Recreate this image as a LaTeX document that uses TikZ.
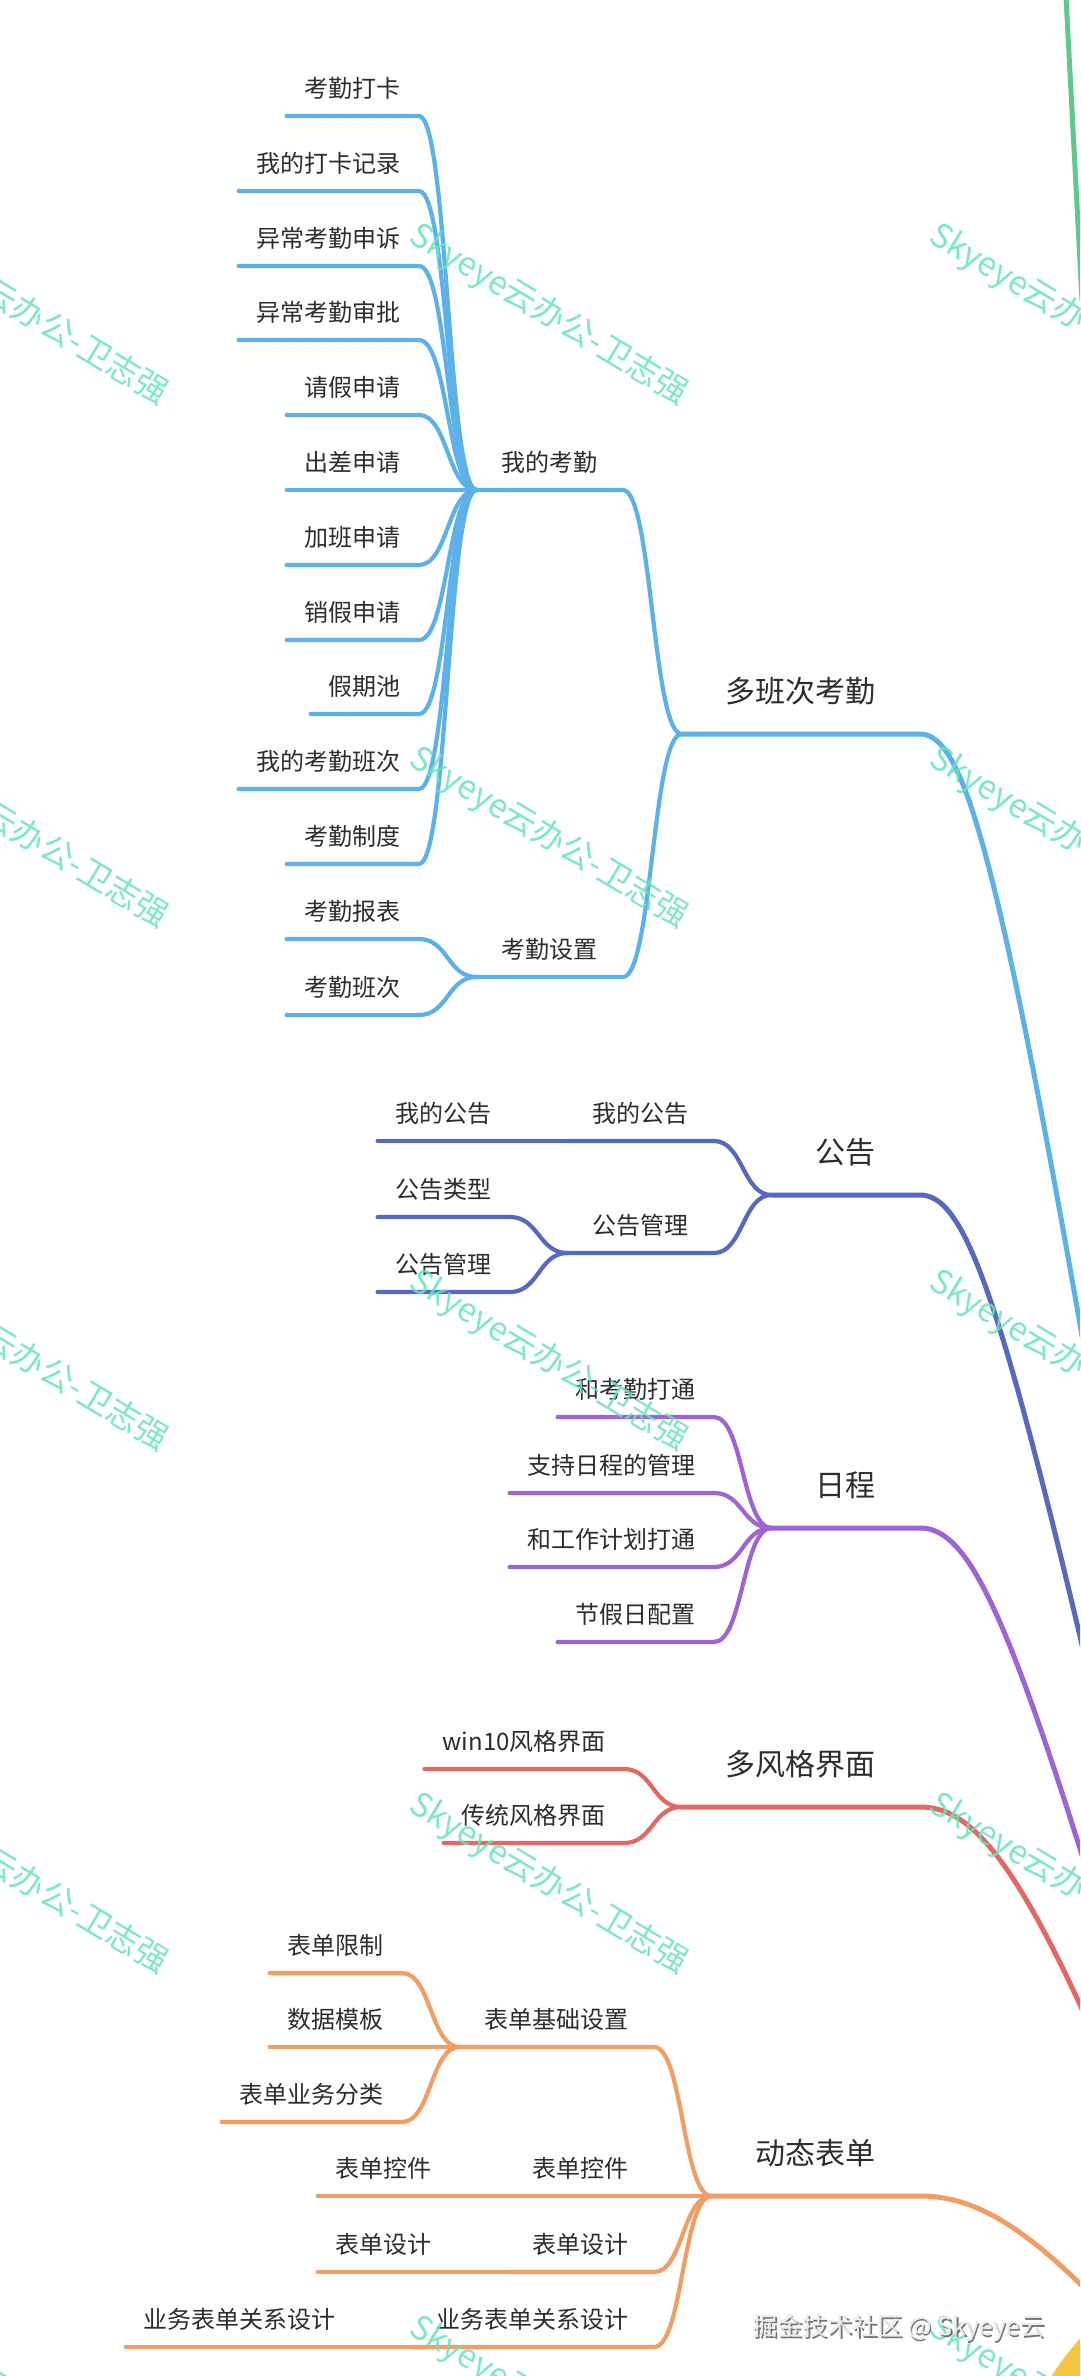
\documentclass[tikz,border=0pt]{standalone}
\usepackage{fontspec}
\newfontfamily\cjk{Noto Sans CJK SC}
\definecolor{txt}{RGB}{45,45,45}
\definecolor{kqblue}{RGB}{92,178,232}
\definecolor{ggindigo}{RGB}{88,104,192}
\definecolor{rcpurple}{RGB}{158,100,214}
\definecolor{fgred}{RGB}{226,104,100}
\definecolor{bdorange}{RGB}{240,158,100}
\definecolor{topgreen}{RGB}{96,200,142}
\definecolor{rootyellow}{RGB}{246,198,64}
\definecolor{wmgreen}{RGB}{104,228,186}
\tikzset{
  leaf/.style={font=\cjk\fontsize{24}{28}\selectfont,text=txt,inner xsep=18pt,inner ysep=15pt,
    text height=20.4pt,text depth=3.6pt,anchor=south east},
  mid/.style={leaf,inner xsep=25pt},
  topic/.style={font=\cjk\fontsize{30}{34}\selectfont,text=txt,inner xsep=44pt,inner ysep=27pt,
    text height=25.5pt,text depth=4.5pt,anchor=south east},
  link/.style={line width=4.2pt,line cap=round,line join=round},
  trunk/.style={line width=5pt,line cap=round,line join=round},
  wm/.style={font=\cjk\fontsize{33}{36}\selectfont,text=wmgreen,rotate=-31,opacity=0.85},
  foot/.style={font=\cjk\fontsize{25}{28}\selectfont}
}
\begin{document}
\begin{tikzpicture}[x=1pt,y=-1pt]
\useasboundingbox (0,0) rectangle (1080,2376);
\clip (0,0) rectangle (1080,2376);
\fill[white] (0,0) rectangle (1080,2376);
\coordinate (rootc) at (1280,2520);
% 多班次考勤
\node[topic] (dbckq) at (920,734) {多班次考勤};
\node[mid] (wdkq) at (623,490) {我的考勤};
\node[mid] (kqsz) at (623,977) {考勤设置};
\node[leaf] (kqdk) at (419,116) {考勤打卡};
\node[leaf] (dkjl) at (419,191) {我的打卡记录};
\node[leaf] (ycss) at (419,266) {异常考勤申诉};
\node[leaf] (ycsp) at (419,340) {异常考勤审批};
\node[leaf] (qjsq) at (419,415) {请假申请};
\node[leaf] (ccsq) at (419,490) {出差申请};
\node[leaf] (jbsq) at (419,565) {加班申请};
\node[leaf] (xjsq) at (419,640) {销假申请};
\node[leaf] (jqc) at (419,714) {假期池};
\node[leaf] (wdbc) at (419,789) {我的考勤班次};
\node[leaf] (kqzd) at (419,864) {考勤制度};
\node[leaf] (kqbb) at (419,939) {考勤报表};
\node[leaf] (kqbc) at (419,1015) {考勤班次};
\begin{scope}[link,draw=kqblue]
\draw (kqdk.south west)--(kqdk.south east)..controls +(29,0) and +(-29,0)..(wdkq.south west);
\draw (dkjl.south west)--(dkjl.south east)..controls +(29,0) and +(-29,0)..(wdkq.south west);
\draw (ycss.south west)--(ycss.south east)..controls +(29,0) and +(-29,0)..(wdkq.south west);
\draw (ycsp.south west)--(ycsp.south east)..controls +(29,0) and +(-29,0)..(wdkq.south west);
\draw (qjsq.south west)--(qjsq.south east)..controls +(29,0) and +(-29,0)..(wdkq.south west);
\draw (ccsq.south west)--(ccsq.south east)--(wdkq.south west);
\draw (jbsq.south west)--(jbsq.south east)..controls +(29,0) and +(-29,0)..(wdkq.south west);
\draw (xjsq.south west)--(xjsq.south east)..controls +(29,0) and +(-29,0)..(wdkq.south west);
\draw (jqc.south west)--(jqc.south east)..controls +(29,0) and +(-29,0)..(wdkq.south west);
\draw (wdbc.south west)--(wdbc.south east)..controls +(29,0) and +(-29,0)..(wdkq.south west);
\draw (kqzd.south west)--(kqzd.south east)..controls +(29,0) and +(-29,0)..(wdkq.south west);
\draw (kqbb.south west)--(kqbb.south east)..controls +(29,0) and +(-29,0)..(kqsz.south west);
\draw (kqbc.south west)--(kqbc.south east)..controls +(29,0) and +(-29,0)..(kqsz.south west);
\draw (wdkq.south west)--(wdkq.south east)..controls +(29,0) and +(-29,0)..(dbckq.south west);
\draw (kqsz.south west)--(kqsz.south east)..controls +(29,0) and +(-29,0)..(dbckq.south west);
\end{scope}
\draw[trunk,kqblue] (dbckq.south west)--(dbckq.south east)..controls (985,734) and (1030,1000)..(rootc);
% 公告
\node[topic] (gg) at (920,1195) {公告};
\node[mid] (wdgg) at (714,1141) {我的公告};
\node[mid] (gggl) at (714,1253) {公告管理};
\node[leaf] (wdgg1) at (510,1141) {我的公告};
\node[leaf] (gglx) at (510,1217) {公告类型};
\node[leaf] (gggl1) at (510,1292) {公告管理};
\begin{scope}[link,draw=ggindigo]
\draw (wdgg1.south west)--(wdgg1.south east)--(wdgg.south west);
\draw (gglx.south west)--(gglx.south east)..controls +(29,0) and +(-29,0)..(gggl.south west);
\draw (gggl1.south west)--(gggl1.south east)..controls +(29,0) and +(-29,0)..(gggl.south west);
\draw (wdgg.south west)--(wdgg.south east)..controls +(29,0) and +(-29,0)..(gg.south west);
\draw (gggl.south west)--(gggl.south east)..controls +(29,0) and +(-29,0)..(gg.south west);
\end{scope}
\draw[trunk,ggindigo] (gg.south west)--(gg.south east)..controls (985,1195) and (1030,1400)..(rootc);
% 日程
\node[topic] (rc) at (920,1528) {日程};
\node[leaf] (hkq) at (714,1417) {和考勤打通};
\node[leaf] (zcrc) at (714,1493) {支持日程的管理};
\node[leaf] (hgz) at (714,1567) {和工作计划打通};
\node[leaf] (jjr) at (714,1642) {节假日配置};
\begin{scope}[link,draw=rcpurple]
\draw (hkq.south west)--(hkq.south east)..controls +(29,0) and +(-29,0)..(rc.south west);
\draw (zcrc.south west)--(zcrc.south east)..controls +(29,0) and +(-29,0)..(rc.south west);
\draw (hgz.south west)--(hgz.south east)..controls +(29,0) and +(-29,0)..(rc.south west);
\draw (jjr.south west)--(jjr.south east)..controls +(29,0) and +(-29,0)..(rc.south west);
\end{scope}
\draw[trunk,rcpurple] (rc.south west)--(rc.south east)..controls (990,1528) and (1040,1700)..(rootc);
% 多风格界面
\node[topic] (dfg) at (920,1807) {多风格界面};
\node[leaf] (win) at (624,1769) {win10风格界面};
\node[leaf] (ctfg) at (624,1843) {传统风格界面};
\begin{scope}[link,draw=fgred]
\draw (win.south west)--(win.south east)..controls +(29,0) and +(-29,0)..(dfg.south west);
\draw (ctfg.south west)--(ctfg.south east)..controls +(29,0) and +(-29,0)..(dfg.south west);
\end{scope}
\draw[trunk,fgred] (dfg.south west)--(dfg.south east)..controls (990,1807) and (1060,1900)..(rootc);
% 动态表单
\node[topic] (dtbd) at (920,2196) {动态表单};
\node[mid] (jcsz) at (654,2047) {表单基础设置};
\node[mid] (bdkj) at (654,2196) {表单控件};
\node[mid] (bdsj) at (654,2272) {表单设计};
\node[mid] (gxsj) at (654,2347) {业务表单关系设计};
\node[leaf] (bdxz) at (402,1973) {表单限制};
\node[leaf] (sjmb) at (402,2047) {数据模板};
\node[leaf] (ywfl) at (402,2122) {表单业务分类};
\node[leaf] (bdkj1) at (450,2196) {表单控件};
\node[leaf] (bdsj1) at (450,2272) {表单设计};
\node[leaf] (gxsj1) at (354,2347) {业务表单关系设计};
\begin{scope}[link,draw=bdorange]
\draw (bdxz.south west)--(bdxz.south east)..controls +(29,0) and +(-29,0)..(jcsz.south west);
\draw (sjmb.south west)--(sjmb.south east)--(jcsz.south west);
\draw (ywfl.south west)--(ywfl.south east)..controls +(29,0) and +(-29,0)..(jcsz.south west);
\draw (bdkj1.south west)--(bdkj1.south east)--(bdkj.south west);
\draw (bdsj1.south west)--(bdsj1.south east)--(bdsj.south west);
\draw (gxsj1.south west)--(gxsj1.south east)--(gxsj.south west);
\draw (jcsz.south west)--(jcsz.south east)..controls +(29,0) and +(-29,0)..(dtbd.south west);
\draw (bdkj.south west)--(bdkj.south east)--(dtbd.south west);
\draw (bdsj.south west)--(bdsj.south east)..controls +(29,0) and +(-29,0)..(dtbd.south west);
\draw (gxsj.south west)--(gxsj.south east)..controls +(29,0) and +(-29,0)..(dtbd.south west);
\end{scope}
\draw[trunk,bdorange] (dtbd.south west)--(dtbd.south east)..controls (1000,2196) and (1080,2260)..(rootc);
% branch leaving at the top
\coordinate (topend) at (1063,-60);
\coordinate (topout) at (1082,300);
\draw[trunk,topgreen] (topend)--(topout);
% root
\node[circle,fill=rootyellow,minimum size=540pt,inner sep=0pt] (root) at (rootc) {};
% watermark
\node[wm] (wm11) at (29,315) {Skyeye云办公-卫志强};
\node[wm] (wm12) at (549,315) {Skyeye云办公-卫志强};
\node[wm] (wm13) at (1069,315) {Skyeye云办公-卫志强};
\node[wm] (wm21) at (29,838) {Skyeye云办公-卫志强};
\node[wm] (wm22) at (549,838) {Skyeye云办公-卫志强};
\node[wm] (wm23) at (1069,838) {Skyeye云办公-卫志强};
\node[wm] (wm31) at (29,1361) {Skyeye云办公-卫志强};
\node[wm] (wm32) at (549,1361) {Skyeye云办公-卫志强};
\node[wm] (wm33) at (1069,1361) {Skyeye云办公-卫志强};
\node[wm] (wm41) at (29,1884) {Skyeye云办公-卫志强};
\node[wm] (wm42) at (549,1884) {Skyeye云办公-卫志强};
\node[wm] (wm43) at (1069,1884) {Skyeye云办公-卫志强};
\node[wm] (wm51) at (29,2407) {Skyeye云办公-卫志强};
\node[wm] (wm52) at (549,2407) {Skyeye云办公-卫志强};
\node[wm] (wm53) at (1069,2407) {Skyeye云办公-卫志强};
% footer
\node[foot,text=black!55] (jjs) at (900.5,2329.5) {掘金技术社区 @ Skyeye云};
\node[foot,text=black!8] (jj) at (899,2328) {掘金技术社区 @ Skyeye云};
\end{tikzpicture}
\end{document}
